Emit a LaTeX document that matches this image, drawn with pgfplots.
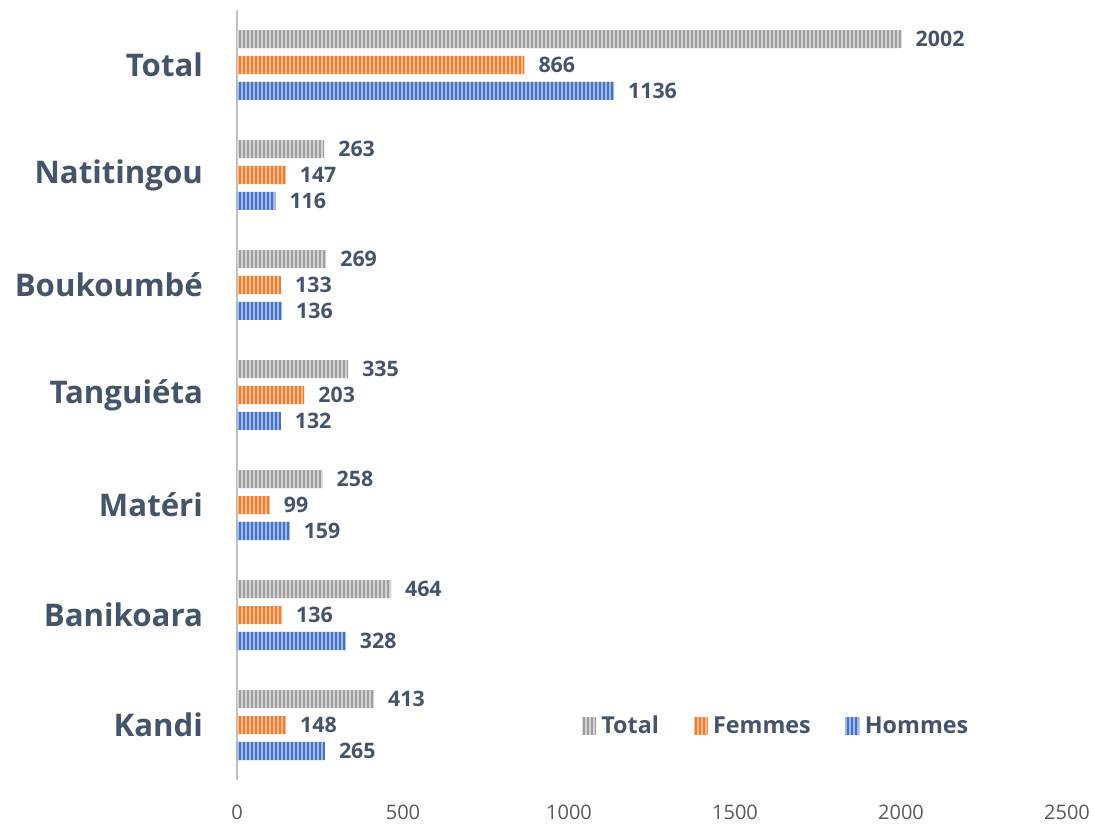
\documentclass[border=0pt]{standalone}
\usepackage{fontspec}
\setmainfont{Open Sans}
\usepackage{pgfplots}
\pgfplotsset{compat=1.18}
\usetikzlibrary{patterns.meta}
\definecolor{tgray}{HTML}{9E9E9E}
\definecolor{tgrayl}{HTML}{D4D4D4}
\definecolor{torange}{HTML}{ED7D31}
\definecolor{torangel}{HTML}{F6B98E}
\definecolor{tblue}{HTML}{4472C4}
\definecolor{tbluel}{HTML}{A3B8E2}
\definecolor{labcol}{HTML}{44546A}
\definecolor{tickgray}{HTML}{595959}
\definecolor{axisgray}{HTML}{BFBFBF}
\pgfplotsset{
  mylegend/.style={legend image code/.code={\path[##1,draw=none] (0pt,-6.5pt) rectangle (10.5pt,6.5pt);}},
}
\begin{document}
\begin{tikzpicture}
\begin{axis}[
  width=622.5pt, height=577.5pt, scale only axis,
  xbar, xmin=0, xmax=2500, ymin=-0.5, ymax=6.5,
  bar width=0.164,
  axis lines*=left,
  x axis line style={draw=none},
  y axis line style={draw=axisgray, line width=2.2pt},
  xtick={0,500,...,2500}, ytick={0,...,6},
  yticklabels={Kandi,Banikoara,Matéri,Tanguiéta,Boukoumbé,Natitingou,Total},
  major tick length=0pt,
  /pgf/number format/1000 sep={},
  /pgf/number format/assume math mode=true,
  xticklabel style={font=\fontsize{15}{18}\selectfont, text=tickgray, inner sep=0pt, yshift=-18.5pt},
  yticklabel style={font=\fontsize{23.4}{28}\selectfont\bfseries, text=labcol, xshift=-22pt},
  nodes near coords,
  nodes near coords style={font=\fontsize{16}{19}\selectfont\bfseries, text=labcol, anchor=west, xshift=7pt},
  legend style={at={(0.65,0.07)}, anchor=center, draw=none, fill=none, legend columns=-1,
    font=\fontsize{17.5}{21}\selectfont\bfseries, text=labcol,
    /tikz/every odd column/.append style={column sep=2pt},
    /tikz/every even column/.append style={column sep=24pt}},
  clip=false,
]
\addplot[mylegend, bar shift=0.236, draw=none, fill=tgrayl,
  postaction={pattern={Lines[angle=90,distance=3pt,line width=1.5pt]}, pattern color=tgray}]
  coordinates {(413,0) (464,1) (258,2) (335,3) (269,4) (263,5) (2002,6)};
\addplot[mylegend, bar shift=0, draw=none, fill=torangel,
  postaction={pattern={Lines[angle=90,distance=3pt,line width=1.7pt]}, pattern color=torange}]
  coordinates {(148,0) (136,1) (99,2) (203,3) (133,4) (147,5) (866,6)};
\addplot[mylegend, bar shift=-0.236, draw=none, fill=tbluel,
  postaction={pattern={Lines[angle=90,distance=3pt,line width=1.7pt]}, pattern color=tblue}]
  coordinates {(265,0) (328,1) (159,2) (132,3) (136,4) (116,5) (1136,6)};
\legend{Total,Femmes,Hommes}
\path (rel axis cs:-0.2855,-0.0558) rectangle (rel axis cs:1.0337,1.013);
\end{axis}
\end{tikzpicture}
\end{document}
